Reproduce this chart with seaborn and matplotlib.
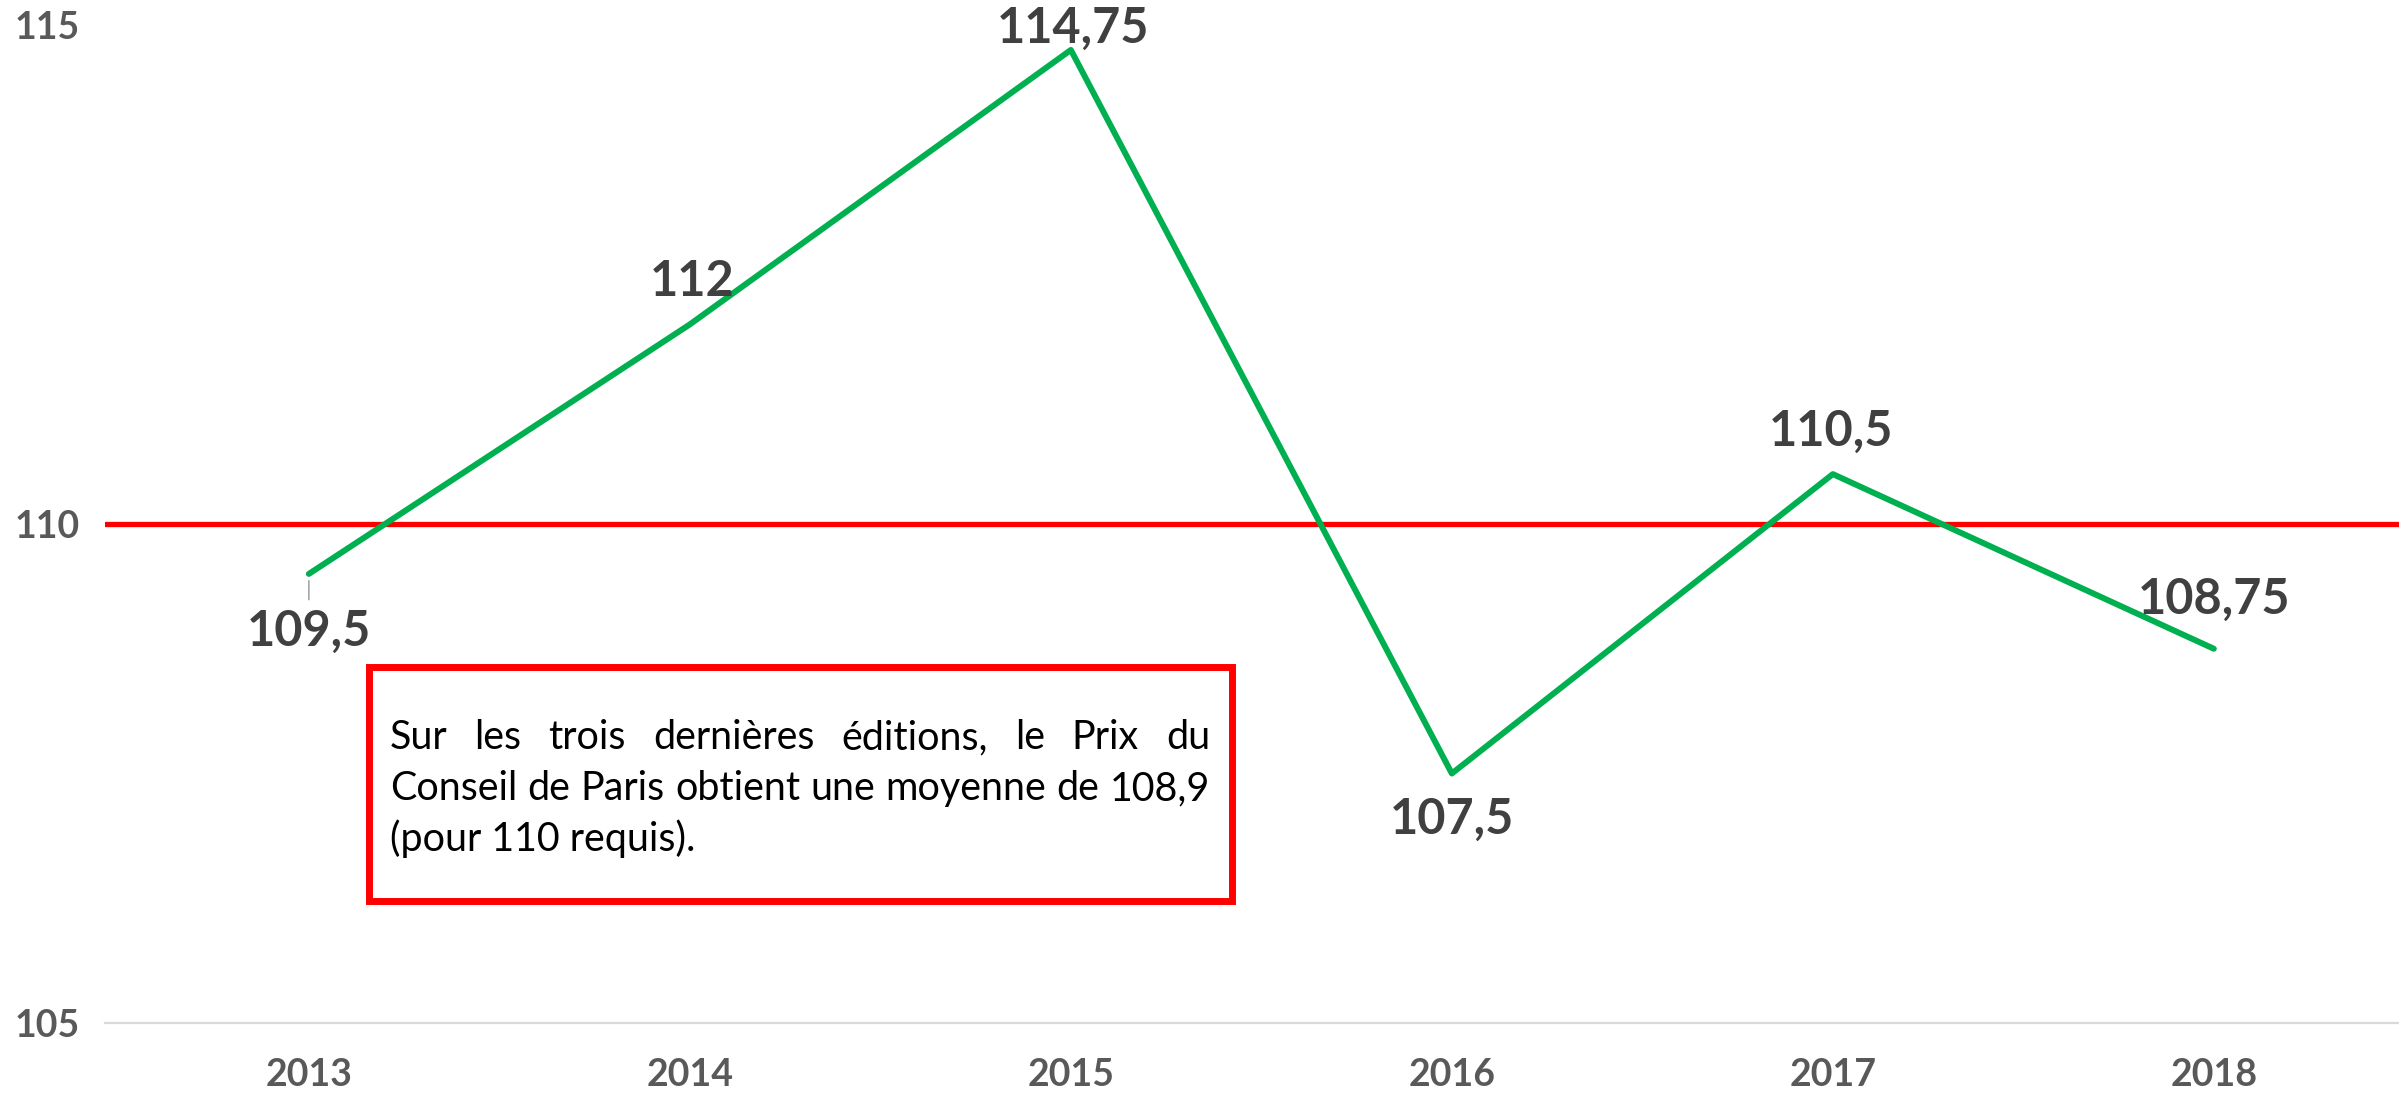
import numpy as np
import pandas as pd
import matplotlib
matplotlib.use("Agg")
import matplotlib.pyplot as plt
import seaborn as sns
from matplotlib.patches import Rectangle

# données
years = ["2013", "2014", "2015", "2016", "2017", "2018"]
scores = [109.5, 112, 114.75, 107.5, 110.5, 108.75]
score_labels = ["109,5", "112", "114,75", "107,5", "110,5", "108,75"]
seuil = 110
y_ticks = [105, 110, 115]
note_lines = ["Sur les trois dernières éditions, le Prix du",
              "Conseil de Paris obtient une moyenne de 108,9",
              "(pour 110 requis)."]

# décalage des étiquettes (pixels)
label_offsets = [(0, -57), (2, 43), (2, 22), (0, -46), (-2, 43), (0, 49)]

W, H = 2399, 1094
sns.set_style("white")
plt.rcParams['font.family'] = ['Lato', 'DejaVu Sans']

df = pd.DataFrame({"pos": np.arange(len(years)), "score": scores})

fig = plt.figure(figsize=(W / 100, H / 100), dpi=100)
ax = fig.add_axes([105 / W, 1 - 1023 / H, 1 - 105 / W, (1023 - 25) / H])

sns.lineplot(data=df, x="pos", y="score", color="#00B050", lw=4.3, ax=ax, zorder=4)
ax.axhline(seuil, color="#FF0000", lw=3.8, zorder=3)

ax.set_xlim(-0.535, 5.486)
ax.set_ylim(105, 115)
ax.set_xticks(range(len(years)))
ax.set_xticklabels(years)
ax.set_yticks(y_ticks)
ax.set_yticklabels([str(v) for v in y_ticks])
ax.set_xlabel("")
ax.set_ylabel("")
for s in ["top", "right", "left"]:
    ax.spines[s].set_visible(False)
ax.spines["bottom"].set_color("#d9d9d9")
ax.spines["bottom"].set_linewidth(1.6)
ax.tick_params(axis="both", length=0, labelsize=27, labelcolor="#595959")
ax.tick_params(axis="x", pad=25)
ax.tick_params(axis="y", pad=65)
for t in ax.get_xticklabels() + ax.get_yticklabels():
    t.set_fontweight("bold")
for t in ax.get_yticklabels():
    t.set_horizontalalignment("left")

for i, (lab, (dx, dy)) in enumerate(zip(score_labels, label_offsets)):
    kw = {}
    if i == 0:
        kw["arrowprops"] = dict(arrowstyle="-", color="#a6a6a6", lw=1.2,
                                shrinkA=4, shrinkB=5)
    ax.annotate(lab, xy=(i, scores[i]), xytext=(dx, dy), textcoords="offset pixels",
                ha="center", va="center", fontsize=35, fontweight="bold",
                color="#404040", annotation_clip=False, zorder=5, **kw)

# encadré
bx0, by0, bx1, by1 = 369, 667, 1232, 901
fig.patches.append(Rectangle((bx0 / W, 1 - by1 / H), (bx1 - bx0) / W, (by1 - by0) / H,
                             transform=fig.transFigure, facecolor="white",
                             edgecolor="#FF0000", lw=5, zorder=10))

fig.canvas.draw()
renderer = fig.canvas.get_renderer()

tx0, tx1 = 390, 1210
probe = fig.text(0, 0, note_lines[1], fontsize=30)
w30 = probe.get_window_extent(renderer).width
probe.remove()
fs = 30 * (tx1 - tx0) / w30

baselines = [749, 800, 851]
for k, (line, yb) in enumerate(zip(note_lines, baselines)):
    if k == len(note_lines) - 1:
        fig.text(tx0 / W, 1 - yb / H, line, fontsize=fs, color="black",
                 va="baseline", ha="left", zorder=11)
        continue
    words = line.split(" ")
    widths = []
    for wd in words:
        t = fig.text(0, 0, wd, fontsize=fs)
        widths.append(t.get_window_extent(renderer).width)
        t.remove()
    gap = (tx1 - tx0 - sum(widths)) / (len(words) - 1)
    x = tx0
    for wd, wdt in zip(words, widths):
        fig.text(x / W, 1 - yb / H, wd, fontsize=fs, color="black",
                 va="baseline", ha="left", zorder=11)
        x += wdt + gap

fig.savefig("out.png", dpi=100)
